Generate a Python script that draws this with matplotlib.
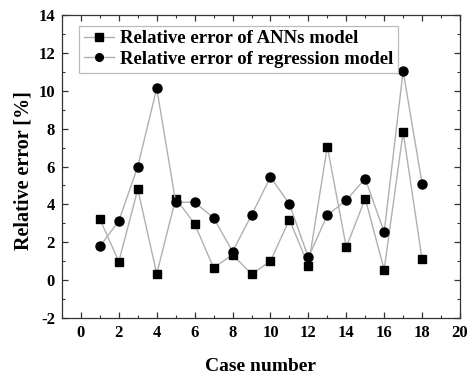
import numpy as np
import matplotlib.pyplot as plt
from matplotlib.ticker import MultipleLocator

plt.rcParams['font.family'] = 'Liberation Serif'
plt.rcParams['font.weight'] = 'bold'
plt.rcParams['axes.unicode_minus'] = False

# Data
cases = list(range(1, 19))
ann_error = [3.22, 0.98, 4.80, 0.33, 4.31, 2.97, 0.65, 1.34, 0.32,
             1.00, 3.20, 0.77, 7.05, 1.74, 4.31, 0.55, 7.82, 1.10]
reg_error = [1.78, 3.13, 6.00, 10.13, 4.11, 4.11, 3.29, 1.51, 3.43,
             5.45, 4.01, 1.20, 3.43, 4.22, 5.36, 2.53, 11.04, 5.10]

fig = plt.figure(figsize=(4.71, 3.78), dpi=100)
ax = fig.add_axes([0.1316, 0.1587, 0.845, 0.8016])

line_color = '#b0b0b0'
ax.plot(cases, ann_error, color=line_color, lw=1.0, marker='s', ms=6,
        mfc='black', mec='black', label='Relative error of ANNs model')
ax.plot(cases, reg_error, color=line_color, lw=1.0, marker='o', ms=6.5,
        mfc='black', mec='black', label='Relative error of regression model')

ax.set_xlim(-1, 20)
ax.set_ylim(-2, 14)
ax.xaxis.set_major_locator(MultipleLocator(2))
ax.xaxis.set_minor_locator(MultipleLocator(1))
ax.yaxis.set_major_locator(MultipleLocator(2))
ax.yaxis.set_minor_locator(MultipleLocator(1))
ax.tick_params(which='both', direction='in', top=True, right=True,
               labeltop=False, labelright=False, labelsize=12, color='#333333')
ax.tick_params(which='major', length=4, width=0.9, pad=5)
ax.tick_params(which='minor', length=2, width=0.8)
for s in ax.spines.values():
    s.set_color('#333333')
    s.set_linewidth(0.9)

ax.set_xlabel('Case number', fontsize=14, fontweight='bold', labelpad=12)
ax.set_ylabel('Relative error [%]', fontsize=14.5, fontweight='bold')
ax.yaxis.set_label_coords(-0.072, 0.485)

leg = ax.legend(loc='upper left', bbox_to_anchor=(0.043, 0.965), fontsize=13.5,
                frameon=True, fancybox=False, edgecolor='#aaaaaa',
                handlelength=1.6, handletextpad=0.35, borderpad=0.25,
                labelspacing=0.18, borderaxespad=0, markerscale=0.85)
leg.get_frame().set_linewidth(0.9)

fig.savefig('out.png', dpi=100)
